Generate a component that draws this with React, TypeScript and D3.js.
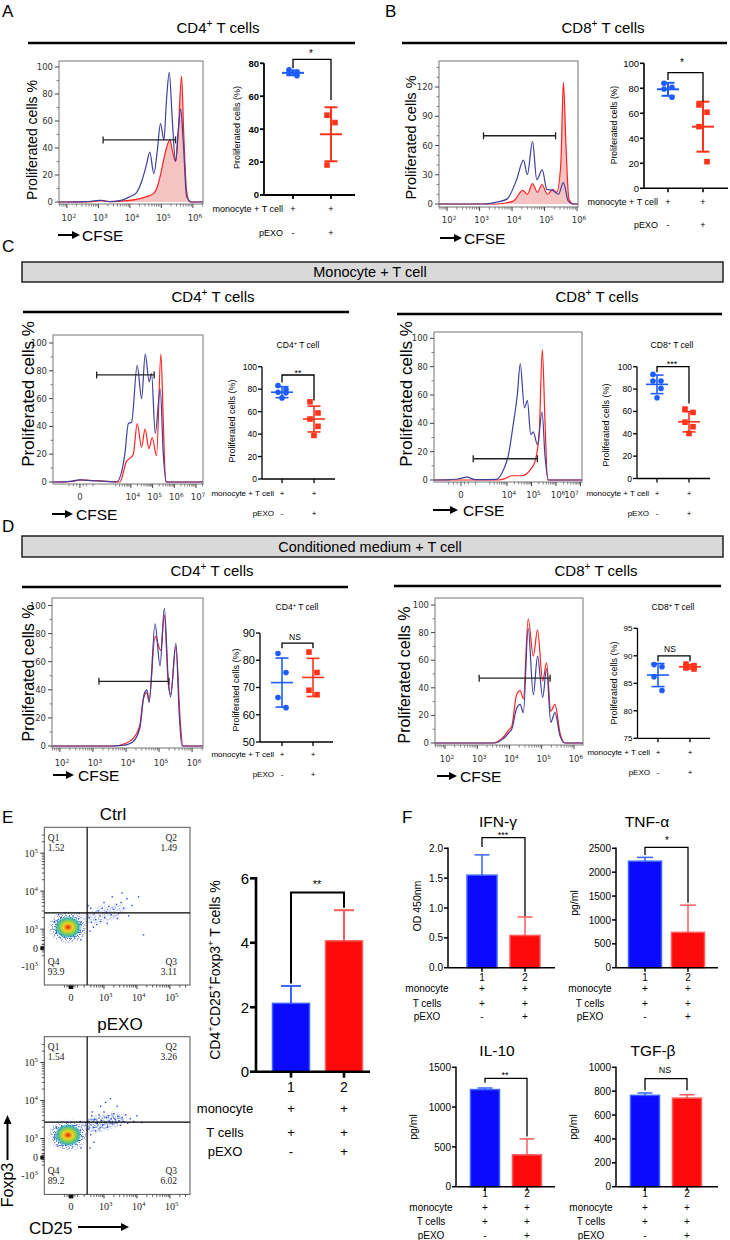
import React from "react";
import * as d3 from "d3";

const SANS = "'Liberation Sans', Arial, Helvetica, sans-serif";
const DJ = "'DejaVu Sans', Verdana, sans-serif";
const SERIF = "'Liberation Serif', 'DejaVu Serif', serif";

const HBLUE = "#3f3f9e";
const HRED = "#ff2222";
const HFILL = "#f6c3c3";
const DBLUE = "#1d5cff";
const DRED = "#ff3319";
const BBLUE = "#0a0aff";
const BBLUE_S = "#3b63ff";
const BRED = "#ff0a0a";
const BRED_S = "#ff5a5a";

// ---------- histogram series: [log10 CFSE display position, % of max] ----------
const A_BLUE = [[1.75,0],[2.6,0.3],[3.05,1.2],[3.35,0.3],[3.68,1],[4.0,4],[4.21,7],[4.37,15],[4.53,28],[4.63,37],[4.76,21],[4.87,38],[4.97,58],[5.08,46],[5.16,75],[5.25,96],[5.34,63],[5.45,30],[5.53,51],[5.61,69],[5.69,46],[5.8,4],[5.96,0],[6.32,0]];
const A_RED = [[1.75,0],[2.8,0.3],[3.1,1.2],[3.4,0.3],[3.89,1],[4.21,2],[4.53,4],[4.74,6],[4.85,10],[4.95,18],[5.06,30],[5.16,40],[5.27,46],[5.35,38],[5.45,30],[5.53,50],[5.64,93],[5.71,50],[5.8,8],[5.9,0],[6.32,0]];
const B_BLUE = [[1.75,0],[3.12,0],[3.53,2],[3.84,5],[4.14,25],[4.35,45],[4.47,30],[4.63,64],[4.76,25],[4.93,35],[5.07,15],[5.25,14],[5.43,10],[5.58,22],[5.73,3],[5.89,0],[6.03,0]];
const B_RED = [[1.75,0],[3.53,0],[4.04,3],[4.33,14],[4.47,10],[4.63,21],[4.78,12],[4.92,20],[5.09,10],[5.25,15],[5.37,12],[5.5,40],[5.58,125],[5.66,60],[5.75,5],[5.89,0],[6.03,0]];
const C4_BLUE = [[0.41,0],[1.2,0.5],[1.65,1.5],[2.2,1],[2.8,0.5],[3.34,0],[3.72,20],[3.88,42],[4.03,43],[4.29,84],[4.49,60],[4.66,92],[4.84,72],[4.95,78],[5.12,35],[5.35,67],[5.49,20],[5.65,0],[7.32,0]];
const C4_RED = [[0.41,0],[1.3,0.5],[1.7,1.5],[2.3,1],[2.9,0.5],[3.49,0],[3.8,15],[3.95,17],[4.11,20],[4.29,42],[4.49,25],[4.65,38],[4.83,24],[4.98,32],[5.18,19],[5.38,92],[5.49,44],[5.6,0],[7.32,0]];
const C8_BLUE = [[1.02,0],[1.7,0.3],[2.01,0.7],[2.36,2],[2.69,0.3],[3.58,0.5],[3.85,7],[4.05,17],[4.26,40],[4.42,60],[4.54,82],[4.71,51],[4.83,56],[4.97,32],[5.07,34],[5.24,25],[5.43,48],[5.55,17],[5.69,0],[7.06,0]];
const C8_RED = [[1.02,0],[3.65,0],[3.92,1],[4.19,3],[4.6,3],[4.94,7],[5.14,13],[5.31,32],[5.44,92],[5.55,41],[5.66,0],[7.06,0]];
const D4_BLUE = [[1.76,0],[3.5,0],[3.9,0.5],[4.03,1],[4.21,3],[4.42,13],[4.55,37],[4.63,40],[4.7,31],[4.88,87],[5.03,57],[5.16,98],[5.28,47],[5.35,35],[5.51,73],[5.61,23],[5.69,0],[6.33,0]];
const D4_RED = [[1.76,0],[3.6,0],[4.0,2],[4.2,5],[4.42,15],[4.52,33],[4.63,38],[4.7,33],[4.88,78],[5.05,68],[5.16,93],[5.28,44],[5.35,37],[5.51,71],[5.64,18],[5.72,0],[6.33,0]];
const D8_BLUE = [[1.69,0],[3.5,0],[3.8,3],[4.0,8],[4.07,10],[4.22,25],[4.33,28],[4.43,22],[4.58,83],[4.74,35],[4.87,63],[5.03,33],[5.15,54],[5.28,15],[5.41,22],[5.57,5],[5.72,0],[6.28,0]];
const D8_RED = [[1.69,0],[3.5,0],[3.8,4],[4.0,10],[4.07,12],[4.22,35],[4.33,38],[4.43,32],[4.58,90],[4.74,63],[4.87,82],[5.03,45],[5.15,58],[5.28,23],[5.41,28],[5.57,7],[5.72,0],[6.28,0]];

// gates: [from, to, level]
const A_GATE = [3.15, 5.45, 46];
const B_GATE = [3.12, 5.34, 70];
const C4_GATE = [2.42, 5.07, 77];
const C8_GATE = [2.62, 5.24, 15];
const D4_GATE = [3.18, 5.3, 46];
const D8_GATE = [3.06, 5.26, 47];

// ---------- dot plots: proliferated cells (%) ----------
const A_CTRL = [76, 74.5, 74, 72.5];
const A_PEXO = [48.5, 44, 18.2];
const A_STATS = [[74.2, 1.5], [36.9, 16.4]];
const B_CTRL = [84, 80.8, 79.5, 72.8];
const B_PEXO = [66.7, 60.8, 49.3, 21.3];
const B_STATS = [[79.2, 5.2], [49.3, 20]];
const C4_CTRL = [83.3, 79.7, 77.3, 76.7, 72.2];
const C4_PEXO = [68.7, 58.8, 53.4, 46.9, 38.8];
const C4_STATS = [[77.3, 4.9], [53.4, 11.5]];
const C8_CTRL = [93.1, 87.2, 87.2, 80.6, 72.2];
const C8_PEXO = [62.1, 59.1, 50.4, 46.3, 40.3];
const C8_STATS = [[84.2, 8.3], [50.7, 9]];
const D4_CTRL = [82.5, 75.5, 66.3, 62.6];
const D4_PEXO = [83, 75.5, 69, 67.4];
const D4_STATS = [[71.8, 9], [73.7, 7]];
const D8_CTRL = [88.4, 88, 86.2, 83.7];
const D8_PEXO = [88.5, 88.2, 87.8, 87.6];
const D8_STATS = [[86.5, 2.1], [88.0, 0.4]];

// ---------- bar plots ----------
const E_MEAN = [2.12, 4.06];
const E_SD = [0.54, 0.95];
const IFN_MEAN = [1.55, 0.54];
const IFN_SD = [0.34, 0.31];
const TNF_MEAN = [2230, 740];
const TNF_SD = [80, 570];
const IL10_MEAN = [1220, 400];
const IL10_SD = [20, 200];
const TGF_MEAN = [765, 742];
const TGF_SD = [20, 28];

// ---------- flow plots ----------
const CTRL_Q = ["1.52", "1.49", "3.11", "93.9"];
const PEXO_Q = ["1.54", "3.26", "6.02", "89.2"];
const CTRL_CORE = [1.91, 3.05];
const PEXO_CORE = [1.91, 3.09];
const CTRL_TAIL_C = [3.0, 3.4];
const PEXO_TAIL_C = [2.95, 3.42];
const CTRL_TAIL = [[2.55,3.3],[2.62,3.18],[2.7,3.4],[2.75,3.25],[2.82,3.48],[2.88,3.35],[2.95,3.55],[3.02,3.3],[3.08,3.45],[3.15,3.6],[3.22,3.38],[3.3,3.52],[3.38,3.65],[3.45,3.42],[3.52,3.7],[3.6,3.55],[3.7,3.8],[3.85,3.62],[2.6,3.55],[2.68,3.05],[2.78,3.12],[2.9,3.2],[3.0,3.7],[3.1,3.15],[3.25,3.85],[3.4,3.28],[3.55,3.95],[3.75,3.35],[4.05,3.85],[4.2,2.85],[2.52,3.62],[2.58,2.95],[1.55,2.9],[1.5,3.2],[2.3,2.72],[1.62,3.38],[2.25,3.42]];
const PEXO_TAIL = [[2.52,3.25],[2.55,3.45],[2.6,3.1],[2.63,3.6],[2.68,3.3],[2.72,3.5],[2.75,3.2],[2.8,3.4],[2.85,3.62],[2.88,3.28],[2.92,3.48],[2.96,3.35],[3.0,3.7],[3.03,3.42],[3.07,3.55],[3.1,3.3],[3.14,3.6],[3.18,3.45],[3.22,3.52],[3.26,3.38],[3.3,3.65],[3.34,3.5],[3.38,3.42],[3.42,3.58],[3.46,3.47],[3.5,3.35],[3.55,3.55],[3.6,3.45],[3.66,3.62],[3.72,3.4],[3.8,3.52],[3.9,3.45],[4.0,3.6],[4.15,3.42],[3.05,3.95],[3.2,4.05],[2.9,3.85],[3.4,3.85],[2.7,2.9],[2.58,2.75],[2.65,3.7],[1.5,3.0],[1.55,3.3],[2.3,2.75],[1.6,2.8],[2.28,3.45]];

// ---------- ticks and labels ----------
const PCT_TICKS = [0, 20, 40, 60, 80, 100];
const B_HIST_TICKS = [0, 30, 60, 90, 120];
const LOG_DEC = [2, 3, 4, 5, 6];
const BIEX_DEC = [4, 5, 6, 7];
const A_DOT_TICKS = [0, 20, 40, 60, 80];
const DOT_TICKS = [0, 20, 40, 60, 80, 100];
const D4_DOT_TICKS = [50, 60, 70, 80, 90];
const D8_DOT_TICKS = [75, 80, 85, 90, 95];
const E_TICKS = [0, 2, 4, 6];
const IFN_TICKS = [0, 0.5, 1, 1.5, 2];
const TNF_TICKS = [0, 500, 1000, 1500, 2000, 2500];
const IL10_TICKS = [0, 500, 1000, 1500];
const TGF_TICKS = [0, 200, 400, 600, 800, 1000];
const GROUPS = ["1", "2"];
const ROWS2 = [{ label: "monocyte + T cell", marks: ["+", "+"] }, { label: "pEXO", marks: ["-", "+"] }];
const ROWS3 = [{ label: "monocyte", marks: ["+", "+"] }, { label: "T cells", marks: ["+", "+"] }, { label: "pEXO", marks: ["-", "+"] }];
const FLOW_Y_LABELS = [{ v: 5, parts: ["10", "^5"] }, { v: 4, parts: ["10", "^4"] }, { v: 3, parts: ["10", "^3"] }, { v: 2.5, parts: ["0"] }, { v: 2.03, parts: ["-10", "^3"] }];
const FLOW_X_LABELS = [{ v: 2, parts: ["0"] }, { v: 3, parts: ["10", "^3"] }, { v: 4, parts: ["10", "^4"] }, { v: 5, parts: ["10", "^5"] }];

function Rich({ x, y, size, parts, anchor = "start", family = SANS, weight = "normal", fill = "#000", rotate = false }: any) {
  const kids: any[] = [];
  let up = false;
  parts.forEach((s: string, i: number) => {
    if (s[0] === "^") {
      kids.push(<tspan key={i} dy={-size * 0.4} fontSize={size * 0.68}>{s.slice(1)}</tspan>);
      up = true;
    } else {
      kids.push(<tspan key={i} dy={up ? size * 0.4 : 0}>{s}</tspan>);
      up = false;
    }
  });
  return (
    <text x={x} y={y} fontSize={size} fontFamily={family} fontWeight={weight} fill={fill} textAnchor={anchor}
      style={{ whiteSpace: "pre" }} transform={rotate ? `rotate(-90 ${x} ${y})` : undefined}>{kids}</text>
  );
}

function HArrow({ x0, x1, y, w = 2 }: any) {
  return (
    <g>
      <line x1={x0} x2={x1 - 5} y1={y} y2={y} stroke="#000" strokeWidth={w} />
      <polygon points={`${x1},${y} ${x1 - 8},${y - 4} ${x1 - 8},${y + 4}`} fill="#000" />
    </g>
  );
}

function logMinor(lo: number, hi: number) {
  const out: number[] = [];
  for (let k = Math.floor(lo); k < hi; k++) {
    for (let m = 2; m <= 9; m++) {
      const v = k + Math.log10(m);
      if (v > lo && v < hi) out.push(v);
    }
  }
  return out;
}

function Hist(p: any) {
  const [l, t, r, b] = p.frame;
  const x = d3.scaleLinear().domain(p.xDom).range([l, r]);
  const y = d3.scaleLinear().domain([0, p.yRef[0]]).range([p.y0, p.yRef[1]]);
  const line = d3.line().x((d: any) => x(d[0])).y((d: any) => y(d[1])).curve(d3.curveMonotoneX);
  const area = d3.area().x((d: any) => x(d[0])).y0(y(0)).y1((d: any) => y(d[1])).curve(d3.curveMonotoneX);
  const yMaxVal = y.invert(t);
  const minorY = d3.range(0, yMaxVal, 10).filter((v) => !p.yTicks.includes(v));
  const minorX = p.biex ? logMinor(3, p.xDom[1]).concat([p.zero - 0.5, p.zero - 0.3, p.zero - 0.15, p.zero + 0.15, p.zero + 0.3, p.zero + 0.6]) : logMinor(p.xDom[0], p.xDom[1]);
  const majors = p.biex ? [p.zero, ...BIEX_DEC] : LOG_DEC;
  const ts = 8.5;
  const [g0, g1, gv] = p.gate;
  return (
    <g>
      {p.redFill && <path d={area(p.red) || ""} fill={HFILL} />}
      <path d={line(p.red) || ""} fill="none" stroke={HRED} strokeWidth={1.2} />
      <path d={line(p.blue) || ""} fill="none" stroke={HBLUE} strokeWidth={1.2} />
      <rect x={l} y={t} width={r - l} height={b - t} fill="none" stroke="#777" strokeWidth={1} />
      {p.yTicks.map((v: number) => (
        <g key={"y" + v}>
          <line x1={l - 4} x2={l} y1={y(v)} y2={y(v)} stroke="#444" strokeWidth={1} />
          <text x={l - 6} y={y(v) + 3} fontSize={ts} textAnchor="end" fontFamily={DJ} fill="#333">{v}</text>
        </g>
      ))}
      {minorY.map((v: number) => <line key={"my" + v} x1={l - 2.5} x2={l} y1={y(v)} y2={y(v)} stroke="#666" strokeWidth={0.8} />)}
      {majors.filter((v: number) => v <= p.xDom[1]).map((v: number) => <line key={"x" + v} x1={x(v)} x2={x(v)} y1={b} y2={b + 4} stroke="#444" strokeWidth={1} />)}
      {minorX.map((v: number, i: number) => <line key={"mx" + i} x1={x(v)} x2={x(v)} y1={b} y2={b + 2.5} stroke="#666" strokeWidth={0.8} />)}
      {p.biex && <text x={x(p.zero)} y={p.labelY} fontSize={ts} textAnchor="middle" fontFamily={DJ} fill="#333">0</text>}
      {(p.biex ? BIEX_DEC : LOG_DEC).map((v: number) => (
        <Rich key={"xl" + v} x={x(v) - ts * 0.62 + (v === 7 ? (p.shift7 || 0) : 0)} y={p.labelY} size={ts} parts={["10", "^" + v]} family={DJ} fill="#333" />
      ))}
      <line x1={x(g0)} x2={x(g1)} y1={y(gv)} y2={y(gv)} stroke="#222" strokeWidth={1.3} />
      <line x1={x(g0)} x2={x(g0)} y1={y(gv) - 3.5} y2={y(gv) + 3.5} stroke="#222" strokeWidth={1.3} />
      <line x1={x(g1)} x2={x(g1)} y1={y(gv) - 3.5} y2={y(gv) + 3.5} stroke="#222" strokeWidth={1.3} />
      <Rich x={p.yl[0] + p.yl[2] * 0.36} y={p.yl[1]} size={p.yl[2]} parts={["Proliferated cells %"]} anchor="middle" rotate />
      <HArrow x0={p.cf[0]} x1={p.cf[1]} y={p.cf[2]} />
      <text x={p.cf[3]} y={p.cf[4]} fontSize={15.5} fontFamily={SANS}>CFSE</text>
    </g>
  );
}

const JIT = [-4, 4, -4, 4, 0];

function Dots(p: any) {
  const y = d3.scaleLinear().domain(p.yDom).range(p.yPx);
  const base = y(p.yDom[0]);
  const top = y(p.yDom[1]);
  const aw = p.aw || 1.5;
  const groups = [p.ctrl, p.pexo];
  const cols = [DBLUE, DRED];
  const br = p.br;
  return (
    <g>
      {p.title && <Rich x={p.title[0]} y={p.title[1]} size={8.5} parts={p.title[2]} anchor="middle" />}
      <line x1={p.axisX} x2={p.axisX} y1={top} y2={base} stroke="#000" strokeWidth={aw} />
      <line x1={p.axisX} x2={p.xEnd} y1={base} y2={base} stroke="#000" strokeWidth={aw} />
      {p.ticks.map((v: number) => (
        <g key={v}>
          <line x1={p.axisX - 4} x2={p.axisX} y1={y(v)} y2={y(v)} stroke="#000" strokeWidth={aw} />
          <text x={p.axisX - 5} y={y(v) + p.ts * 0.36} fontSize={p.ts} textAnchor="end" fontWeight={p.bold ? "bold" : "normal"}>{v}</text>
        </g>
      ))}
      {p.cats.map((c: number) => <line key={c} x1={c} x2={c} y1={base} y2={base + 4} stroke="#000" strokeWidth={aw} />)}
      {groups.map((vals: number[], gi: number) => {
        const c = p.cats[gi];
        const [m, sd] = p.stats[gi];
        const col = cols[gi];
        const sw = p.sw || 1.6;
        return (
          <g key={"g" + gi}>
            <line x1={c} x2={c} y1={y(m - sd)} y2={y(m + sd)} stroke={col} strokeWidth={sw} />
            <line x1={c - 6.5} x2={c + 6.5} y1={y(m - sd)} y2={y(m - sd)} stroke={col} strokeWidth={sw} />
            <line x1={c - 6.5} x2={c + 6.5} y1={y(m + sd)} y2={y(m + sd)} stroke={col} strokeWidth={sw} />
            <line x1={c - 11} x2={c + 11} y1={y(m)} y2={y(m)} stroke={col} strokeWidth={sw} />
            {vals.map((v: number, i: number) =>
              gi === 0
                ? <circle key={i} cx={c + JIT[i % 5]} cy={y(v)} r={2.8} fill={col} />
                : <rect key={i} x={c + JIT[i % 5] - 2.8} y={y(v) - 2.8} width={5.6} height={5.6} fill={col} />
            )}
          </g>
        );
      })}
      <path d={`M${p.cats[0]},${y(br[1])}V${y(br[0])}H${p.cats[1]}V${y(br[2])}`} fill="none" stroke="#000" strokeWidth={1.3} />
      <text x={br[4]} y={br[5]} fontSize={br[6]} textAnchor="middle">{br[3]}</text>
      <Rich x={p.yl[0] + p.yl[2] * 0.36} y={p.yl[1]} size={p.yl[2]} parts={["Proliferated cells (%)"]} anchor="middle" rotate />
      {ROWS2.map((row: any, i: number) => (
        <g key={"r" + i} fontSize={p.rs}>
          <text x={p.cats[0] - p.rg} y={p.rowY[i]} textAnchor="end">{row.label}</text>
          {row.marks.map((mk: string, j: number) => <text key={j} x={p.cats[j]} y={p.rowY[i]} textAnchor="middle">{mk}</text>)}
        </g>
      ))}
    </g>
  );
}

function Bars(p: any) {
  const y = d3.scaleLinear().domain(p.yDom).range(p.yPx);
  const base = y(0);
  const top = y(p.yDom[1]);
  const fmt = p.fmt ? d3.format(p.fmt) : (v: number) => String(v);
  const cols = [[BBLUE, BBLUE_S], [BRED, BRED_S]];
  const br = p.br;
  return (
    <g>
      {p.title && <text x={p.title[0]} y={p.title[1]} fontSize={15.5} textAnchor="middle">{p.title[2]}</text>}
      {p.mean.map((v: number, i: number) => {
        const c = p.cats[i];
        const yt = y(v);
        const ye = y(v + p.sd[i]);
        return (
          <g key={i}>
            <line x1={c} x2={c} y1={yt} y2={ye} stroke={cols[i][1]} strokeWidth={p.ew} />
            <line x1={c - p.capW / 2} x2={c + p.capW / 2} y1={ye} y2={ye} stroke={cols[i][1]} strokeWidth={p.ew} />
            <rect x={c - p.barW / 2} y={yt} width={p.barW} height={base - yt} fill={cols[i][0]} stroke={cols[i][1]} strokeWidth={1.5} />
          </g>
        );
      })}
      <line x1={p.axisX} x2={p.axisX} y1={top - p.aw / 2} y2={base} stroke="#000" strokeWidth={p.aw} />
      <line x1={p.axisX} x2={p.xEnd} y1={base} y2={base} stroke="#000" strokeWidth={p.aw} />
      {p.ticks.map((v: number) => (
        <g key={v}>
          <line x1={p.axisX - p.tl} x2={p.axisX} y1={y(v)} y2={y(v)} stroke="#000" strokeWidth={p.aw} />
          <text x={p.axisX - p.tl - 1} y={y(v) + p.ts * 0.36} fontSize={p.ts} textAnchor="end">{fmt(v)}</text>
        </g>
      ))}
      {p.cats.map((c: number, i: number) => (
        <g key={"c" + i}>
          <line x1={c} x2={c} y1={base} y2={base + p.tl} stroke="#000" strokeWidth={p.aw} />
          <text x={c} y={p.catY} fontSize={p.cs} textAnchor="middle">{GROUPS[i]}</text>
        </g>
      ))}
      <path d={`M${p.cats[0]},${y(br[1])}V${y(br[0])}H${p.cats[1]}V${y(br[2])}`} fill="none" stroke="#000" strokeWidth={p.bw} />
      <text x={br[4]} y={br[5]} fontSize={br[6]} textAnchor="middle">{br[3]}</text>
      <Rich x={p.yl[0] + p.yl[2] * 0.36} y={p.yl[1]} size={p.yl[2]} parts={p.yl[3]} anchor="middle" rotate />
      {ROWS3.map((row: any, i: number) => (
        <g key={"r" + i} fontSize={p.rs}>
          <text x={p.rowX} y={p.rowY[i]} textAnchor="middle">{row.label}</text>
          {row.marks.map((mk: string, j: number) => <text key={j} x={p.cats[j]} y={p.rowY[i]} textAnchor="middle">{mk}</text>)}
        </g>
      ))}
    </g>
  );
}

function Flow(p: any) {
  const l = 44.3, r = 190, t = p.top, b = p.top + 157.7;
  const x = d3.scaleLinear().domain([1.19, 5.61]).range([l, r]);
  const y = d3.scaleLinear().domain([1.53, 5.68]).range([b, t]);
  const qx = x(2.49), qy = y(3.43);
  const cx = x(p.core[0]), cy = y(p.core[1]);
  const tx = x(p.tailC[0]), ty = y(p.tailC[1]);
  const xMin = logMinor(2.6, 5.6).concat([1.8, 1.88, 1.94, 2.0, 2.06, 2.12, 2.2, 2.4]);
  const yMin = logMinor(2.6, 5.6).concat([2.3, 2.4, 2.45, 2.5, 2.55, 2.6, 2.7]);
  return (
    <g>
      <text x={p.titleX} y={t - 7} fontSize={17} textAnchor="middle">{p.title}</text>
      <rect x={l} y={t} width={r - l} height={b - t} fill="#fff" stroke="#555" strokeWidth={1} />
      <ellipse cx={tx} cy={ty} rx={27} ry={9.5} transform={`rotate(-14 ${tx} ${ty})`} fill="url(#halo)" opacity={p.tailOp} filter="url(#speck)" />
      {p.tail.map((d: number[], i: number) => <rect key={i} x={x(d[0]) - 0.7} y={y(d[1]) - 0.7} width={1.4} height={1.4} fill="#2a4ad0" />)}
      <ellipse cx={cx} cy={cy} rx={21} ry={17} fill="url(#halo)" filter="url(#speck)" />
      <ellipse cx={cx} cy={cy} rx={14} ry={11.5} fill="url(#core)" filter="url(#soft)" />
      <line x1={qx} x2={qx} y1={t} y2={b} stroke="#000" strokeWidth={1.2} />
      <line x1={l} x2={r} y1={qy} y2={qy} stroke="#000" strokeWidth={1.2} />
      <g fontFamily={SERIF} fontSize={9.5} fill="#222">
        <text x={l + 3.5} y={t + 13.5}>Q1</text>
        <text x={l + 3.5} y={t + 23.5}>{p.q[0]}</text>
        <text x={177} y={t + 13.5} textAnchor="end">Q2</text>
        <text x={177} y={t + 23.5} textAnchor="end">{p.q[1]}</text>
        <text x={177} y={b - 20} textAnchor="end">Q3</text>
        <text x={177} y={b - 10} textAnchor="end">{p.q[2]}</text>
        <text x={l + 3.5} y={b - 20}>Q4</text>
        <text x={l + 3.5} y={b - 10}>{p.q[3]}</text>
      </g>
      {[3, 4, 5].map((v) => <line key={"xt" + v} x1={x(v)} x2={x(v)} y1={b} y2={b + 4} stroke="#333" />)}
      {xMin.map((v, i) => <line key={"xm" + i} x1={x(v)} x2={x(v)} y1={b} y2={b + 2.5} stroke="#333" strokeWidth={0.8} />)}
      {[3, 4, 5].map((v) => <line key={"yt" + v} x1={l - 4} x2={l} y1={y(v)} y2={y(v)} stroke="#333" />)}
      {yMin.map((v, i) => <line key={"ym" + i} x1={l - 2.5} x2={l} y1={y(v)} y2={y(v)} stroke="#333" strokeWidth={0.8} />)}
      <rect x={x(1.93)} y={b + 0.5} width={x(2.07) - x(1.93)} height={3.5} fill="#111" />
      <rect x={l - 4} y={y(2.55)} width={3.5} height={y(2.45) - y(2.55)} fill="#111" />
      {FLOW_Y_LABELS.map((d, i) => (
        <Rich key={"yl" + i} x={38} y={y(d.v) + 3.5} size={10} parts={d.parts} family={SERIF} anchor="end" fill="#222" />
      ))}
      {FLOW_X_LABELS.map((d, i) => (
        <Rich key={"xl" + i} x={d.parts.length > 1 ? x(d.v) - 5 : x(d.v)} y={b + 16} size={10} parts={d.parts} family={SERIF} anchor={d.parts.length > 1 ? "start" : "middle"} fill="#222" />
      ))}
    </g>
  );
}

export default function App() {
  return (
    <svg width={730} height={1240} viewBox="0 0 730 1240" style={{ position: "absolute", left: 0, top: 0 }} fontFamily={SANS}>
      <defs>
        <radialGradient id="halo" cx="50%" cy="50%" r="50%">
          <stop offset="0" stopColor="#2f5fd8" stopOpacity={1} />
          <stop offset="0.6" stopColor="#2a52d0" stopOpacity={0.95} />
          <stop offset="1" stopColor="#2a45c0" stopOpacity={0} />
        </radialGradient>
        <radialGradient id="core" cx="50%" cy="50%" r="50%">
          <stop offset="0" stopColor="#d81810" />
          <stop offset="0.16" stopColor="#f07a1a" />
          <stop offset="0.34" stopColor="#f0d420" />
          <stop offset="0.56" stopColor="#8ccf4a" />
          <stop offset="0.78" stopColor="#30b4a8" stopOpacity={0.9} />
          <stop offset="1" stopColor="#3090c8" stopOpacity={0} />
        </radialGradient>
        <filter id="soft" x="-20%" y="-20%" width="140%" height="140%">
          <feGaussianBlur stdDeviation="0.7" />
        </filter>
        <filter id="speck" x="-10%" y="-10%" width="120%" height="120%">
          <feTurbulence type="fractalNoise" baseFrequency="0.75" numOctaves={1} seed={7} result="n" />
          <feColorMatrix in="n" type="matrix" values="0 0 0 0 0  0 0 0 0 0  0 0 0 0 0  14 0 0 0 -7.2" result="m" />
          <feComposite in="SourceGraphic" in2="m" operator="in" />
        </filter>
      </defs>
      <rect width={730} height={1240} fill="#fff" />

      {/* panel letters */}
      <g fontSize={17}>
        <text x={2} y={17}>A</text>
        <text x={385} y={17}>B</text>
        <text x={2} y={252}>C</text>
        <text x={2} y={532}>D</text>
        <text x={2} y={823}>E</text>
        <text x={402} y={823}>F</text>
      </g>

      {/* ---------- A ---------- */}
      <Rich x={218} y={33} size={15} parts={["CD4", "^+", " T cells"]} anchor="middle" />
      <line x1={28} x2={355} y1={43} y2={43} stroke="#000" strokeWidth={2.5} />
      <Hist frame={[59, 61, 203, 204]} xDom={[1.75, 6.32]} y0={202} yRef={[100, 67]} yTicks={PCT_TICKS}
        labelY={221} blue={A_BLUE} red={A_RED} redFill gate={A_GATE} yl={[32, 140, 14]} cf={[58, 80, 235, 82, 241]} />
      <Dots axisX={264} xEnd={355} yDom={[0, 80]} yPx={[195, 63.3]} ticks={A_DOT_TICKS} ts={9.5} bold aw={1.8} sw={2}
        cats={[293, 331]} ctrl={A_CTRL} pexo={A_PEXO} stats={A_STATS} br={[82.4, 77, 57.7, "*", 311, 57, 10]}
        yl={[237, 127.5, 9]} rowY={[212, 236]} rs={9} rg={10} />

      {/* ---------- B ---------- */}
      <Rich x={603} y={33} size={15} parts={["CD8", "^+", " T cells"]} anchor="middle" />
      <line x1={402} x2={727} y1={43} y2={43} stroke="#000" strokeWidth={2.5} />
      <Hist frame={[439, 61, 578, 207]} xDom={[1.75, 6.03]} y0={204} yRef={[120, 87]} yTicks={B_HIST_TICKS}
        labelY={223} blue={B_BLUE} red={B_RED} redFill gate={B_GATE} yl={[411, 137.5, 14.5]} cf={[440, 462, 238, 464, 244]} />
      <Dots axisX={644} xEnd={728} yDom={[0, 100]} yPx={[188.3, 63.3]} ticks={DOT_TICKS} ts={9.5} aw={1.6} sw={2}
        cats={[668, 703]} ctrl={B_CTRL} pexo={B_PEXO} stats={B_STATS} br={[92.5, 86.7, 69.3, "*", 682, 66, 10]}
        yl={[614, 125, 8.5]} rowY={[205, 228]} rs={9} rg={10} />

      {/* ---------- C ---------- */}
      <rect x={22} y={262} width={701} height={20} fill="#d9d9d9" stroke="#222" strokeWidth={1.5} />
      <text x={370} y={276.5} fontSize={14.5} textAnchor="middle">Monocyte + T cell</text>
      <Rich x={213} y={302} size={15} parts={["CD4", "^+", " T cells"]} anchor="middle" />
      <line x1={23} x2={349} y1={312} y2={312} stroke="#000" strokeWidth={2.5} />
      <Rich x={597} y={302} size={15} parts={["CD8", "^+", " T cells"]} anchor="middle" />
      <line x1={397} x2={722} y1={314} y2={314} stroke="#000" strokeWidth={2.5} />
      <Hist frame={[53, 335, 203, 484]} xDom={[0.41, 7.32]} y0={482} yRef={[100, 343]} yTicks={PCT_TICKS}
        biex zero={1.65} labelY={500} blue={C4_BLUE} red={C4_RED} gate={C4_GATE} yl={[28, 394, 17]} cf={[52, 73, 514, 76, 520]} />
      <Dots axisX={262} xEnd={335} yDom={[0, 100]} yPx={[479, 366.7]} ticks={DOT_TICKS} ts={8.5} aw={1.3}
        title={[298, 348, ["CD4", "^+", " T cell"]]}
        cats={[282, 314]} ctrl={C4_CTRL} pexo={C4_PEXO} stats={C4_STATS} br={[92.6, 86, 70, "**", 298, 376, 9]}
        yl={[232, 421, 9]} rowY={[496, 516]} rs={8} rg={8} />
      <Hist frame={[434, 332, 582, 482]} xDom={[1.02, 7.06]} y0={480} yRef={[100, 338.3]} yTicks={PCT_TICKS}
        biex zero={2.12} shift7={-11} labelY={498} blue={C8_BLUE} red={C8_RED} gate={C8_GATE} yl={[406, 394, 17]} cf={[433, 458, 510, 463, 516]} />
      <Dots axisX={637} xEnd={710} yDom={[0, 100]} yPx={[478.5, 366.7]} ticks={DOT_TICKS} ts={8.5} aw={1.3}
        title={[672, 348, ["CD8", "^+", " T cell"]]}
        cats={[657, 689]} ctrl={C8_CTRL} pexo={C8_PEXO} stats={C8_STATS} br={[100, 95, 67, "***", 672, 367, 9]}
        yl={[606, 425, 9]} rowY={[496, 516]} rs={8} rg={8} />

      {/* ---------- D ---------- */}
      <rect x={22} y={536} width={701} height={21} fill="#d9d9d9" stroke="#222" strokeWidth={1.5} />
      <text x={370} y={552} fontSize={14.5} textAnchor="middle">Conditioned medium + T cell</text>
      <Rich x={212} y={576} size={15} parts={["CD4", "^+", " T cells"]} anchor="middle" />
      <line x1={22} x2={348} y1={587} y2={587} stroke="#000" strokeWidth={2.5} />
      <Rich x={596} y={576} size={15} parts={["CD8", "^+", " T cells"]} anchor="middle" />
      <line x1={394} x2={721} y1={586} y2={586} stroke="#000" strokeWidth={2.5} />
      <Hist frame={[52, 598, 203, 748]} xDom={[1.76, 6.33]} y0={746} yRef={[100, 605.5]} yTicks={PCT_TICKS}
        labelY={766} blue={D4_BLUE} red={D4_RED} gate={D4_GATE} yl={[28, 673, 16]} cf={[53, 74, 775, 78, 781]} />
      <Dots axisX={260} xEnd={333} yDom={[50, 90]} yPx={[742, 633]} ticks={D4_DOT_TICKS} ts={11} aw={1.3}
        title={[297, 610, ["CD4", "^+", " T cell"]]}
        cats={[282, 313]} ctrl={D4_CTRL} pexo={D4_PEXO} stats={D4_STATS} br={[86.3, 84.4, 84.4, "NS", 295, 640, 8.5]}
        yl={[236, 690, 9]} rowY={[757, 777]} rs={8} rg={8} />
      <Hist frame={[435, 598, 583, 745]} xDom={[1.69, 6.28]} y0={743} yRef={[100, 605]} yTicks={PCT_TICKS}
        labelY={762} blue={D8_BLUE} red={D8_RED} gate={D8_GATE} yl={[404, 675, 16]} cf={[437, 457, 776, 460, 782]} />
      <Dots axisX={637.5} xEnd={710} yDom={[75, 95]} yPx={[738.3, 628.3]} ticks={D8_DOT_TICKS} ts={8} aw={1.3}
        title={[673, 610, ["CD8", "^+", " T cell"]]}
        cats={[658, 690]} ctrl={D8_CTRL} pexo={D8_PEXO} stats={D8_STATS} br={[90, 89, 89, "NS", 670, 652, 8.5]}
        yl={[614, 683, 9]} rowY={[755, 775]} rs={8} rg={8} />

      {/* ---------- E ---------- */}
      <Flow top={827.3} title="Ctrl" titleX={113} q={CTRL_Q} core={CTRL_CORE} tail={CTRL_TAIL} tailC={CTRL_TAIL_C} tailOp={0.45} />
      <Flow top={1036.7} title="pEXO" titleX={120} q={PEXO_Q} core={PEXO_CORE} tail={PEXO_TAIL} tailC={PEXO_TAIL_C} tailOp={0.85} />
      <g>
        <line x1={7.5} x2={7.5} y1={1160} y2={1123} stroke="#000" strokeWidth={2} />
        <polygon points="7.5,1115 3.5,1124 11.5,1124" fill="#000" />
        <text x={13} y={1185} fontSize={16} textAnchor="middle" transform="rotate(-90 13 1185)">Foxp3</text>
        <text x={29} y={1234} fontSize={17}>CD25</text>
        <HArrow x0={78} x1={129} y={1227} />
      </g>
      <Bars axisX={256} xEnd={370} yDom={[0, 6]} yPx={[1071.7, 878.3]} ticks={E_TICKS} ts={15} tl={6} aw={2.6}
        cats={[291, 344]} barW={37} capW={20} ew={2} mean={E_MEAN} sd={E_SD} bw={2}
        br={[5.56, 2.74, 5.09, "**", 317, 888, 11]}
        yl={[215, 970, 14, ["CD4", "^+", "CD25", "^+", "Foxp3", "^+", " T cells %"]]}
        catY={1092} cs={14} rowX={225} rowY={[1113, 1137, 1156]} rs={13} />

      {/* ---------- F ---------- */}
      <Bars axisX={448} xEnd={555} yDom={[0, 2]} yPx={[967.7, 848.3]} ticks={IFN_TICKS} fmt=".1f" ts={10} tl={4} aw={1.5}
        cats={[482, 525]} barW={30} capW={15} ew={1.5} mean={IFN_MEAN} sd={IFN_SD} bw={1.3}
        br={[2.18, 2.02, 0.86, "***", 503, 838, 9]} title={[498, 827, "IFN-γ"]}
        yl={[417, 906, 10.5, ["OD 450nm"]]} catY={981} cs={10} rowX={427} rowY={[992, 1007, 1020]} rs={10} />
      <Bars axisX={616} xEnd={718} yDom={[0, 2500]} yPx={[967.7, 848.3]} ticks={TNF_TICKS} ts={10} tl={4} aw={1.5}
        cats={[645, 688]} barW={33} capW={16} ew={1.5} mean={TNF_MEAN} sd={TNF_SD} bw={1.3}
        br={[2520, 2360, 1360, "*", 667, 844, 10]} title={[647, 827, "TNF-α"]}
        yl={[574, 903, 10.5, ["pg/ml"]]} catY={981} cs={10} rowX={590} rowY={[992, 1007, 1020]} rs={10} />
      <Bars axisX={456} xEnd={555} yDom={[0, 1500]} yPx={[1186.7, 1067.3]} ticks={IL10_TICKS} ts={10} tl={4} aw={1.5}
        cats={[485, 527]} barW={29} capW={15} ew={1.5} mean={IL10_MEAN} sd={IL10_SD} bw={1.3}
        br={[1360, 1305, 630, "**", 505, 1078, 9]} title={[497, 1056, "IL-10"]}
        yl={[413, 1127, 10.5, ["pg/ml"]]} catY={1197} cs={10} rowX={431} rowY={[1211, 1225, 1239]} rs={10} />
      <Bars axisX={616} xEnd={718} yDom={[0, 1000]} yPx={[1186.7, 1067.3]} ticks={TGF_TICKS} ts={10} tl={4} aw={1.5}
        cats={[645, 687]} barW={29} capW={15} ew={1.5} mean={TGF_MEAN} sd={TGF_SD} bw={1.3}
        br={[905, 808, 808, "NS", 665, 1073, 9]} title={[653, 1056, "TGF-β"]}
        yl={[573, 1127, 10.5, ["pg/ml"]]} catY={1197} cs={10} rowX={591} rowY={[1211, 1225, 1239]} rs={10} />
    </svg>
  );
}
